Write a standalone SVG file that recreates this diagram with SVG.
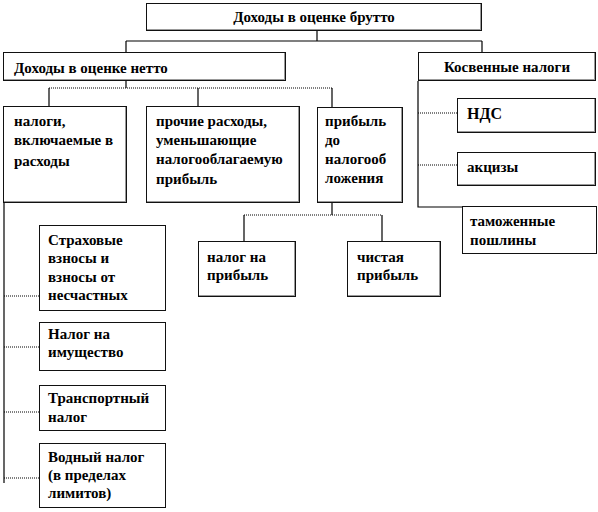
<svg xmlns="http://www.w3.org/2000/svg" width="598" height="512" viewBox="0 0 598 512">
<style>
.box{fill:#fff;stroke:#111;stroke-width:1}
.sh{fill:none;stroke:#999;stroke-width:1}
.ln{fill:none;stroke:#000;stroke-width:1.2}
.dl{fill:none;stroke:#000;stroke-width:1;stroke-dasharray:1 1}
text{font-family:"Liberation Serif","Times New Roman",serif;font-weight:bold;font-size:15px;fill:#000}
.big{font-size:16px}
.c{text-anchor:middle}
</style>
<rect width="598" height="512" fill="#fff"/>
<g id="connectors">
<path class="ln" d="M317 31V41M126 41H482M126 41V53M482 41V53"/>
<path class="ln" d="M126 81V88M49 88V106M198 88V106M332 88V107"/>
<path class="dl" d="M49 88H332"/>
<path class="ln" d="M4 203V483"/>
<path class="dl" d="M4 296H39M4 347H39M4 412H39M4 478H39"/>
<path class="ln" d="M418 81V207H462"/>
<path class="dl" d="M418 113H457M418 165H457"/>
<path class="ln" d="M332 203V215M244 215V242M382 215V242"/>
<path class="dl" d="M244 215H382"/>
</g>
<g id="n_brutto"><rect class="box" x="146.5" y="3.5" width="335" height="27"/><path class="sh" d="M147 29.5H481M480.5 4V30"/><text class="c" x="314" y="22">Доходы в оценке брутто</text></g>
<g id="n_netto"><rect class="box" x="3.5" y="52.5" width="282" height="28"/><path class="sh" d="M4 79.5H285M284.5 53V80"/><text x="14" y="73">Доходы в оценке нетто</text></g>
<g id="n_kosv"><rect class="box" x="418.5" y="52.5" width="177" height="28"/><path class="sh" d="M419 79.5H595M594.5 53V80"/><text class="c" x="507" y="72">Косвенные налоги</text></g>
<g id="n_nalogi"><rect class="box" x="3.5" y="106.5" width="123" height="96"/><path class="sh" d="M4 201.5H126M125.5 107V202"/><text x="14" y="126">налоги,</text><text x="14" y="145">включаемые в</text><text x="14" y="166">расходы</text></g>
<g id="n_prochie"><rect class="box" x="146.5" y="106.5" width="153" height="96"/><path class="sh" d="M147 201.5H299M298.5 107V202"/><text x="156" y="126">прочие расходы,</text><text x="156" y="145">уменьшающие</text><text x="156" y="164">налогооблагаемую</text><text x="156" y="184">прибыль</text></g>
<g id="n_pribyl"><rect class="box" x="317.5" y="107.5" width="85" height="95"/><path class="sh" d="M318 201.5H402M401.5 108V202"/><text x="325" y="126">прибыль</text><text x="325" y="145">до</text><text x="325" y="164">налогооб</text><text x="325" y="183">ложения</text></g>
<g id="n_nds"><rect class="box" x="457.5" y="98.5" width="138" height="34"/><path class="sh" d="M458 131.5H595M594.5 99V132"/><text class="big" x="467" y="119">НДС</text></g>
<g id="n_akcizy"><rect class="box" x="457.5" y="152.5" width="138" height="33"/><path class="sh" d="M458 184.5H595M594.5 153V185"/><text x="467" y="172">акцизы</text></g>
<g id="n_tamozh"><rect class="box" x="462.5" y="206.5" width="134" height="47"/><text x="470" y="226">таможенные</text><text x="470" y="245">пошлины</text></g>
<g id="n_np"><rect class="box" x="198.5" y="241.5" width="97" height="55"/><path class="sh" d="M199 295.5H295M294.5 242V296"/><text x="207" y="262">налог на</text><text x="207" y="280">прибыль</text></g>
<g id="n_chp"><rect class="box" x="347.5" y="241.5" width="93" height="55"/><path class="sh" d="M348 295.5H440M439.5 242V296"/><text x="357" y="262">чистая</text><text x="357" y="280">прибыль</text></g>
<g id="n_strah"><rect class="box" x="39.5" y="225.5" width="126" height="85"/><text x="48" y="245">Страховые</text><text x="48" y="263">взносы и</text><text x="48" y="282">взносы от</text><text x="48" y="300">несчастных</text></g>
<g id="n_imush"><rect class="box" x="39.5" y="322.5" width="126" height="48"/><text x="48" y="339">Налог на</text><text x="48" y="357">имущество</text></g>
<g id="n_transp"><rect class="box" x="39.5" y="385.5" width="126" height="45"/><text x="48" y="403">Транспортный</text><text x="48" y="422">налог</text></g>
<g id="n_vodn"><rect class="box" x="39.5" y="443.5" width="126" height="64"/><text x="48" y="462">Водный налог</text><text x="48" y="480">(в пределах</text><text x="48" y="498">лимитов)</text></g>
</svg>
